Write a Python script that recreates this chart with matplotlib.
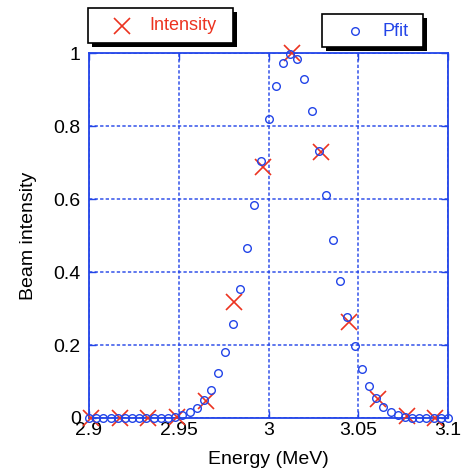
import matplotlib
matplotlib.use("Agg")
import matplotlib.pyplot as plt
from matplotlib.patches import Rectangle
from matplotlib.lines import Line2D
from matplotlib.ticker import FormatStrFormatter
from matplotlib.transforms import Affine2D

plt.rcParams['font.family'] = ['Liberation Sans', 'DejaVu Sans']
plt.rcParams['lines.scale_dashes'] = False

BLUE = "#2244e8"
RED = "#ec3320"

# measured beam intensity
energy_meas = [2.901, 2.917, 2.933, 2.949, 2.965, 2.981, 2.997,
               3.013, 3.029, 3.045, 3.061, 3.077, 3.093]
intensity = [0.0, 0.0, 0.0, 0.003, 0.047, 0.317, 0.688,
             1.0, 0.729, 0.262, 0.053, 0.005, 0.0]

# fitted profile
energy_fit = [2.900, 2.904, 2.908, 2.912, 2.916, 2.920, 2.924, 2.928, 2.932, 2.936,
              2.940, 2.944, 2.948, 2.952, 2.956, 2.960, 2.964, 2.968, 2.972, 2.976,
              2.980, 2.984, 2.988, 2.992, 2.996, 3.000, 3.004, 3.008, 3.012, 3.016,
              3.020, 3.024, 3.028, 3.032, 3.036, 3.040, 3.044, 3.048, 3.052, 3.056,
              3.060, 3.064, 3.068, 3.072, 3.076, 3.080, 3.084, 3.088, 3.092, 3.096,
              3.100]
pfit = [0.0, 0.0, 0.0, 0.0, 0.0, 0.0, 0.0, 0.0, 0.0, 0.0,
        0.0, 0.001, 0.003, 0.008, 0.017, 0.028, 0.049, 0.078, 0.123, 0.182,
        0.258, 0.354, 0.467, 0.585, 0.706, 0.819, 0.911, 0.973, 0.999, 0.983,
        0.929, 0.841, 0.732, 0.611, 0.489, 0.376, 0.277, 0.198, 0.134, 0.088,
        0.054, 0.031, 0.017, 0.008, 0.004, 0.001, 0.0, 0.0, 0.0, 0.0,
        0.0]

xticks = [2.9, 2.95, 3.0, 3.05, 3.1]
yticks = [0, 0.2, 0.4, 0.6, 0.8, 1.0]

W, H = 468, 472
fig = plt.figure(figsize=(W / 100, H / 100), dpi=100)
ax = fig.add_axes([89 / W, (H - 418) / H, 359 / W, (418 - 53.3) / H])

ax.plot(energy_meas, intensity, linestyle="none", marker="x", markersize=12,
        mew=1.2, color=RED, clip_on=False, zorder=3)
ax.plot(energy_fit, pfit, linestyle="none", marker="o", markersize=5.5,
        mew=1.0, mfc="none", mec=BLUE, clip_on=False, zorder=4)

ax.set_xlim(2.9, 3.1)
ax.set_ylim(0, 1)
ax.set_xticks(xticks)
ax.set_yticks(yticks)
ax.xaxis.set_major_formatter(FormatStrFormatter("%g"))
ax.yaxis.set_major_formatter(FormatStrFormatter("%g"))

ax.grid(True, color=BLUE, linewidth=1.2, linestyle=(0, (2.4, 1.6)), alpha=0.85)
ax.set_axisbelow(True)
for s in ax.spines.values():
    s.set_color(BLUE)
    s.set_linewidth(1.3)

ax.tick_params(direction="in", length=5, width=1, color=BLUE,
               top=True, right=True, labelsize=14)
ax.tick_params(axis="x", pad=3)
ax.tick_params(axis="y", pad=6)

ax.set_xlabel("Energy (MeV)", fontsize=14)
ax.set_ylabel("Beam intensity", fontsize=14)
ax.xaxis.set_label_coords(0.5, -0.09)
ax.yaxis.set_label_coords(-0.145, 0.5)

# legend boxes drawn in pixel coords from the top-left corner
px = Affine2D().scale(1 / W, -1 / H).translate(0, 1) + fig.transFigure


def key_box(x0, y0, x1, y1, mx, tx, ty, marker, label, color, **mkw):
    fig.add_artist(Rectangle((x0 + 4, y0 + 4), x1 - x0, y1 - y0, transform=px,
                             facecolor="black", edgecolor="none", zorder=5))
    fig.add_artist(Rectangle((x0, y0), x1 - x0, y1 - y0, transform=px,
                             facecolor="white", edgecolor="black",
                             linewidth=1.2, zorder=6))
    fig.add_artist(Line2D([mx], [ty], transform=px, linestyle="none",
                          marker=marker, color=color, zorder=7, **mkw))
    fig.text(tx, ty, label, transform=px, color=color, fontsize=13,
             ha="left", va="center", zorder=7)


key_box(88, 8, 233, 43, 121.7, 149, 26, "x", "Intensity", RED,
        markersize=12, mew=1.2)
key_box(322, 14, 423, 47, 355, 383, 31, "o", "Pfit", BLUE,
        markersize=5.5, mew=1.0, mfc="none", mec=BLUE)

fig.savefig("out.png", dpi=100)
